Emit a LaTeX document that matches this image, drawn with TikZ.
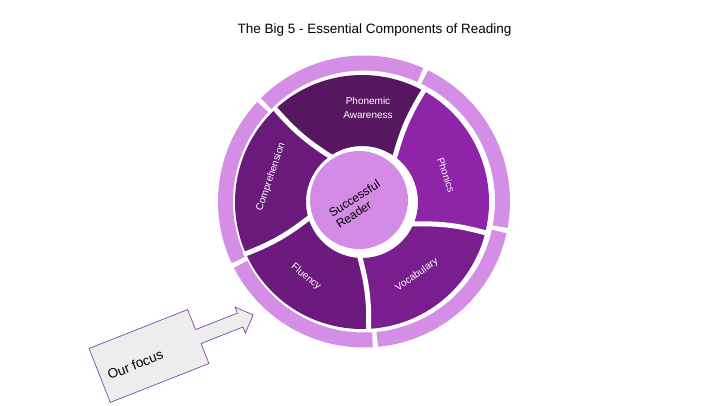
\documentclass[tikz,border=0pt]{standalone}
\usepackage{fontspec}
\setmainfont{Liberation Sans}
\usetikzlibrary{calc}
\definecolor{segpa}{HTML}{561660}
\definecolor{segph}{HTML}{8E24A8}
\definecolor{segvoc}{HTML}{7A1E8F}
\definecolor{segflu}{HTML}{6C1A7E}
\definecolor{segcomp}{HTML}{6A1A7B}
\definecolor{ringc}{HTML}{D48EE6}
\definecolor{centc}{HTML}{D38BE5}
\definecolor{calloutc}{HTML}{7030A0}
\tikzset{
  seglabel/.style={text=white, font=\fontsize{10}{14}\selectfont, align=center, inner sep=0pt},
  ringarc/.style={draw=ringc, line width=15pt},
  gapline/.style={draw=white, line width=5pt, line cap=rect},
  callout/.style={fill=black!7, draw=calloutc, line width=0.6pt, line join=miter},
}

\begin{document}
\begin{tikzpicture}[x=1pt, y=1pt]
    \useasboundingbox[fill=white] (0,0) rectangle (720,405);
    \node[font=\fontsize{13.5}{16}\selectfont] (title) at (374.5,375) {The Big 5 - Essential Components of Reading};
    \coordinate (C) at (362,203);
    \coordinate (R) at (364,203.5);
    \foreach \a/\b in {66/135, 137/205, 207/273.5, 275.5/347.5, 349.5/424}
      \draw[ringarc] ($(R)+(\a:138.5pt)$) arc[start angle=\a, end angle=\b, radius=138.5pt];
    \foreach \ai/\ao/\bi/\bo/\col in {54/61/125/133/segpa, 125/133/197/204/segcomp, 197/204/268/273/segflu, 268/273/337/346/segvoc, 337/346/414/421/segph}
      \fill[\col] ($(C)+(\ai:56pt)$) to[bend left=8] ($(C)+(\ao:127pt)$)
        arc[start angle=\ao, end angle=\bo, radius=127pt]
        to[bend right=8] ($(C)+(\bi:56pt)$)
        arc[start angle=\bi, end angle=\ai, radius=56pt] -- cycle;
    \foreach \ai/\ao in {54/61, 125/133, 197/204, 268/273, 337/346}
      \draw[gapline] ($(C)+(\ai:56pt)$) to[bend left=8] ($(C)+(\ao:127pt)$);
    \fill[centc] (359,205) circle[radius=49pt];
    \node[seglabel] (pa) at (368,297) {Phonemic\\Awareness};
    \node[seglabel, rotate=-71] (ph) at (446,230) {Phonics};
    \node[seglabel, rotate=35] (voc) at (417,130) {Vocabulary};
    \node[seglabel, rotate=-39] (flu) at (306,128) {Fluency};
    \node[seglabel, rotate=71] (comp) at (271,228) {Comprehension};
    \node[font=\fontsize{12}{13}\selectfont, align=left, rotate=33, inner sep=0pt] (reader) at (358,201) {Successful\\Reader};
    \begin{scope}[shift={(149,49)}, rotate=21.5]
      \path[callout] (-53,29) -- (53,29) -- (53,7.5) -- (98,7.5) -- (98,14) -- (112,0)
        -- (98,-14) -- (98,-7.5) -- (53,-7.5) -- (53,-29) -- (-53,-29) -- cycle;
      \node[font=\fontsize{13.5}{16}\selectfont, transform shape] (focus) at (-16,-3) {Our focus};
    \end{scope}
  \end{tikzpicture}
\end{document}
